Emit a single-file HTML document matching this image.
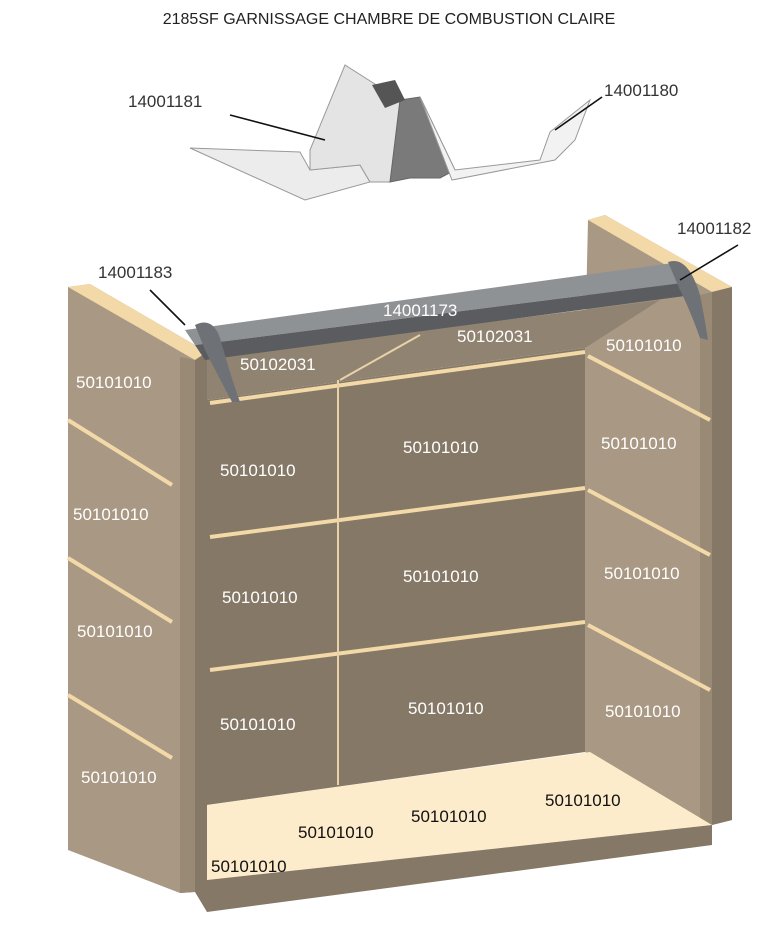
<!DOCTYPE html>
<html><head><meta charset="utf-8"><style>
html,body{margin:0;padding:0;background:#fff;}
svg{display:block;}
text{font-family:"Liberation Sans",sans-serif;}
</style></head><body>
<svg width="779" height="942" viewBox="0 0 779 942" xmlns="http://www.w3.org/2000/svg">
<text x="389" y="24" font-size="16" text-anchor="middle" fill="#222">2185SF GARNISSAGE CHAMBRE DE COMBUSTION CLAIRE</text>

<!-- top sheet metal -->
<polygon points="190,148 300,152 310,170 360,165 370,182 305,200" fill="#ececec" stroke="#999" stroke-width="1"/>
<polygon points="310,150 345,65 400,100 415,100 390,182 370,182 360,165 310,170" fill="#e4e4e4" stroke="#999" stroke-width="1"/>
<polygon points="400,100 420,97 455,170 440,178 410,178 390,182" fill="#7a7a7a" stroke="#666" stroke-width="1"/>
<polygon points="372,85 395,80 405,100 385,108" fill="#555"/>
<polygon points="420,97 455,170 540,160 550,132 590,100 575,140 555,160 452,180" fill="#f2f2f2" stroke="#999" stroke-width="1"/>

<!-- left wall -->
<polygon points="68,287 90,284 207,352 195,360 195,892 180,893 68,850" fill="#a89884"/>
<polygon points="68,287 90,284 207,352 195,360" fill="#f3d9a8"/>
<polygon points="180,357 195,360 195,892 180,893" fill="#998a76"/>
<polygon points="195,360 207,352 207,912 195,892" fill="#857867"/>
<g stroke="#f3d9a8" stroke-width="4">
<line x1="68" y1="420" x2="172" y2="485"/>
<line x1="68" y1="558" x2="172" y2="622"/>
<line x1="68" y1="695" x2="172" y2="758"/>
</g>

<!-- right wall -->
<polygon points="588,220 605,215 732,287 732,820 712,825 585,752 585,352" fill="#a89884"/>
<polygon points="588,220 605,215 732,287 712,292" fill="#f3d9a8"/>
<polygon points="712,292 732,287 732,820 712,825" fill="#857867"/>
<polygon points="700,295 712,292 712,825 700,820" fill="#998a76"/>
<g stroke="#f3d9a8" stroke-width="4">
<line x1="588" y1="356" x2="710" y2="420"/>
<line x1="588" y1="490" x2="710" y2="555"/>
<line x1="588" y1="625" x2="710" y2="690"/>
</g>

<!-- back wall -->
<polygon points="207,400 585,348 585,752 207,805" fill="#857867"/>
<polygon points="207,358 660,300 585,348 207,400" fill="#918371"/>
<line x1="340" y1="380" x2="420" y2="335" stroke="#e8d2a8" stroke-width="2"/>
<g stroke="#f3d9a8" stroke-width="4">
<line x1="210" y1="403" x2="585" y2="352"/>
<line x1="210" y1="537" x2="585" y2="488"/>
<line x1="210" y1="670" x2="585" y2="622"/>
</g>
<line x1="338" y1="380" x2="338" y2="785" stroke="#e8d2a8" stroke-width="2"/>

<!-- floor -->
<polygon points="207,805 590,752 712,825 207,880" fill="#fdeccb"/>
<polygon points="207,880 712,825 712,845 207,912" fill="#857867"/>

<!-- bar -->
<polygon points="185,330 680,262 690,282 195,345" fill="#8f9295"/>
<polygon points="195,345 690,282 685,296 205,360" fill="#5a5c5f"/>
<path d="M195,325 Q215,315 222,345 Q232,380 240,402 L232,402 Q215,370 205,350 Z" fill="#6e7276"/>
<path d="M668,262 Q688,255 700,295 Q705,320 708,340 L700,338 Q690,310 680,290 Z" fill="#6e7276"/>

<!-- leaders -->
<g stroke="#111" stroke-width="1.6">
<line x1="230" y1="115" x2="325" y2="140"/>
<line x1="602" y1="97" x2="555" y2="130"/>
<line x1="150" y1="290" x2="185" y2="325"/>
<line x1="738" y1="245" x2="680" y2="280"/>
</g>
<g font-size="17" fill="#333">
<text x="128" y="107">14001181</text>
<text x="604" y="96">14001180</text>
<text x="98" y="278">14001183</text>
<text x="677" y="234">14001182</text>
</g>
<g font-size="17" fill="#fff">
<text x="383" y="316">14001173</text>
<text x="240" y="370">50102031</text>
<text x="457" y="342">50102031</text>
<text x="606" y="351">50101010</text>
<text x="76" y="388">50101010</text>
<text x="403" y="453">50101010</text>
<text x="601" y="449">50101010</text>
<text x="220" y="476">50101010</text>
<text x="73" y="520">50101010</text>
<text x="403" y="582">50101010</text>
<text x="604" y="579">50101010</text>
<text x="222" y="603">50101010</text>
<text x="77" y="637">50101010</text>
<text x="220" y="730">50101010</text>
<text x="408" y="714">50101010</text>
<text x="605" y="717">50101010</text>
<text x="81" y="783">50101010</text>
</g>
<g font-size="17" fill="#111">
<text x="545" y="806">50101010</text>
<text x="411" y="822">50101010</text>
<text x="298" y="838">50101010</text>
<text x="211" y="872">50101010</text>
</g>
</svg>
</body></html>
